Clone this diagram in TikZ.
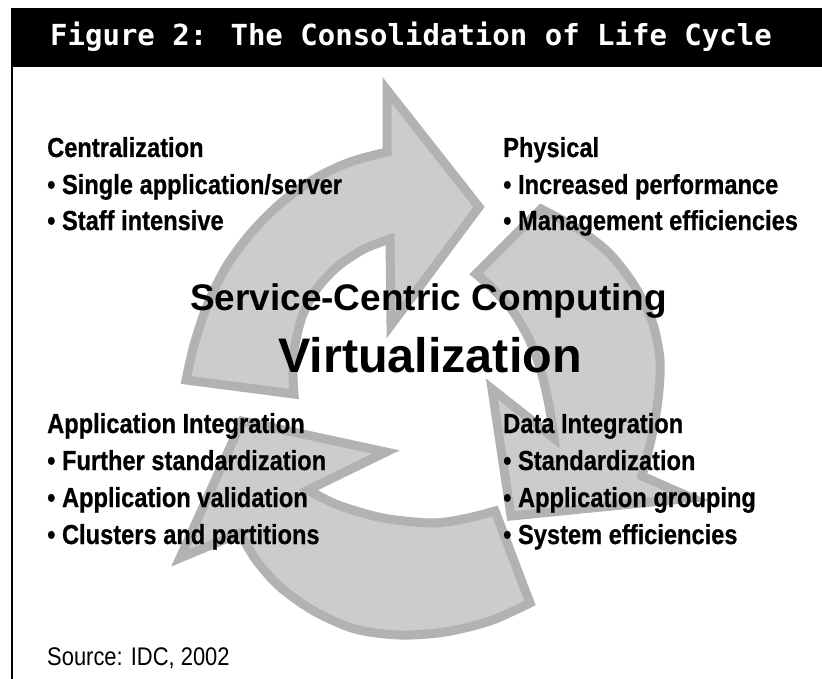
\documentclass[tikz,border=0pt]{standalone}
\usepackage{fontspec}
\setmainfont{Liberation Sans}
\newfontfamily\narrow[FakeStretch=0.86]{Liberation Sans}
\newfontfamily\narrowb[FakeStretch=0.86, FakeBold=0.6]{Liberation Sans Bold}
\newfontfamily\headfont{DejaVu Sans Mono}
\definecolor{arrowfill}{RGB}{204,204,204}
\definecolor{arrowline}{RGB}{178,178,178}
\tikzset{
  cyc/.style={fill=arrowfill, draw=arrowline, line width=9pt, line join=miter, miter limit=10},
  item/.style={anchor=base west, inner sep=0pt, font=\narrowb\fontsize{27.5}{33}\selectfont},
  headsty/.style={anchor=base west, inner sep=0pt, text=white, font=\headfont\bfseries\fontsize{29}{34}\selectfont},
}
\begin{document}
\begin{tikzpicture}[x=1pt,y=-1pt]
\useasboundingbox (0,0) rectangle (822,679);
\fill[white] (0,0) rectangle (822,679);
% header
\fill[black] (11,8) rectangle (822,67);
\node[headsty] (title) at (50,46) {Figure 2: The Consolidation of Life Cycle};
\draw[line width=2pt] (12,67) -- (12,679);

% arrow 3 (bottom)
\filldraw[cyc] plot[smooth] coordinates {(530,603) (490,621) (445,632) (400,635) (355,629) (314,611) (280,587) (256,560) (240,533)}
  -- (180,558) -- (242,421) -- (386,452)
  -- plot[smooth] coordinates {(308,490) (338,505) (383,518) (433,523) (468,518) (495,511)} -- cycle;
% arrow 2 (right)
\filldraw[cyc] plot[smooth] coordinates {(541,209) (578,229) (609,253) (634,285) (652,321) (660,360) (658,400) (651,440) (642,476)}
  -- (692,498) -- (511,516) -- (492,389)
  -- plot[smooth] coordinates {(554,438) (549,405) (541,371) (529,339) (512,310) (493,289) (476,274)} -- cycle;
% arrow 1 (top-left)
\filldraw[cyc] plot[smooth] coordinates {(186,380) (194,345) (207,306) (226,267) (251,233) (282,202) (316,178) (350,162) (387,152)}
  -- (387,90) -- (479,207) -- (391,325)
  -- plot[smooth] coordinates {(390,239) (364,249) (337,267) (316,290) (302,317) (294,350) (293,375) (294,394)} -- cycle;

% texts
\node[item] (tl1) at (47,157) {Centralization};
\node[item] (tl2) at (47,194) {• Single application/server};
\node[item] (tl3) at (47,230) {• Staff intensive};
\node[item] (tr1) at (503,157) {Physical};
\node[item] (tr2) at (503,194) {• Increased performance};
\node[item] (tr3) at (503,230) {• Management efficiencies};
\node[item] (bl1) at (47,433) {Application Integration};
\node[item] (bl2) at (47,470) {• Further standardization};
\node[item] (bl3) at (47,507) {• Application validation};
\node[item] (bl4) at (47,544) {• Clusters and partitions};
\node[item] (br1) at (503,433) {Data Integration};
\node[item] (br2) at (503,470) {• Standardization};
\node[item] (br3) at (503,507) {• Application grouping};
\node[item] (br4) at (503,544) {• System efficiencies};

\node[anchor=base, inner sep=0pt, font=\bfseries\fontsize{37}{40}\selectfont] (svc) at (428.5,310) {Service-Centric Computing};
\node[anchor=base, inner sep=0pt, font=\bfseries\fontsize{48.5}{52}\selectfont] (virt) at (430,372) {Virtualization};

\node[anchor=base west, inner sep=0pt, font=\narrow\fontsize{25.5}{30}\selectfont] (src) at (47,665) {Source: IDC, 2002};
\end{tikzpicture}
\end{document}
